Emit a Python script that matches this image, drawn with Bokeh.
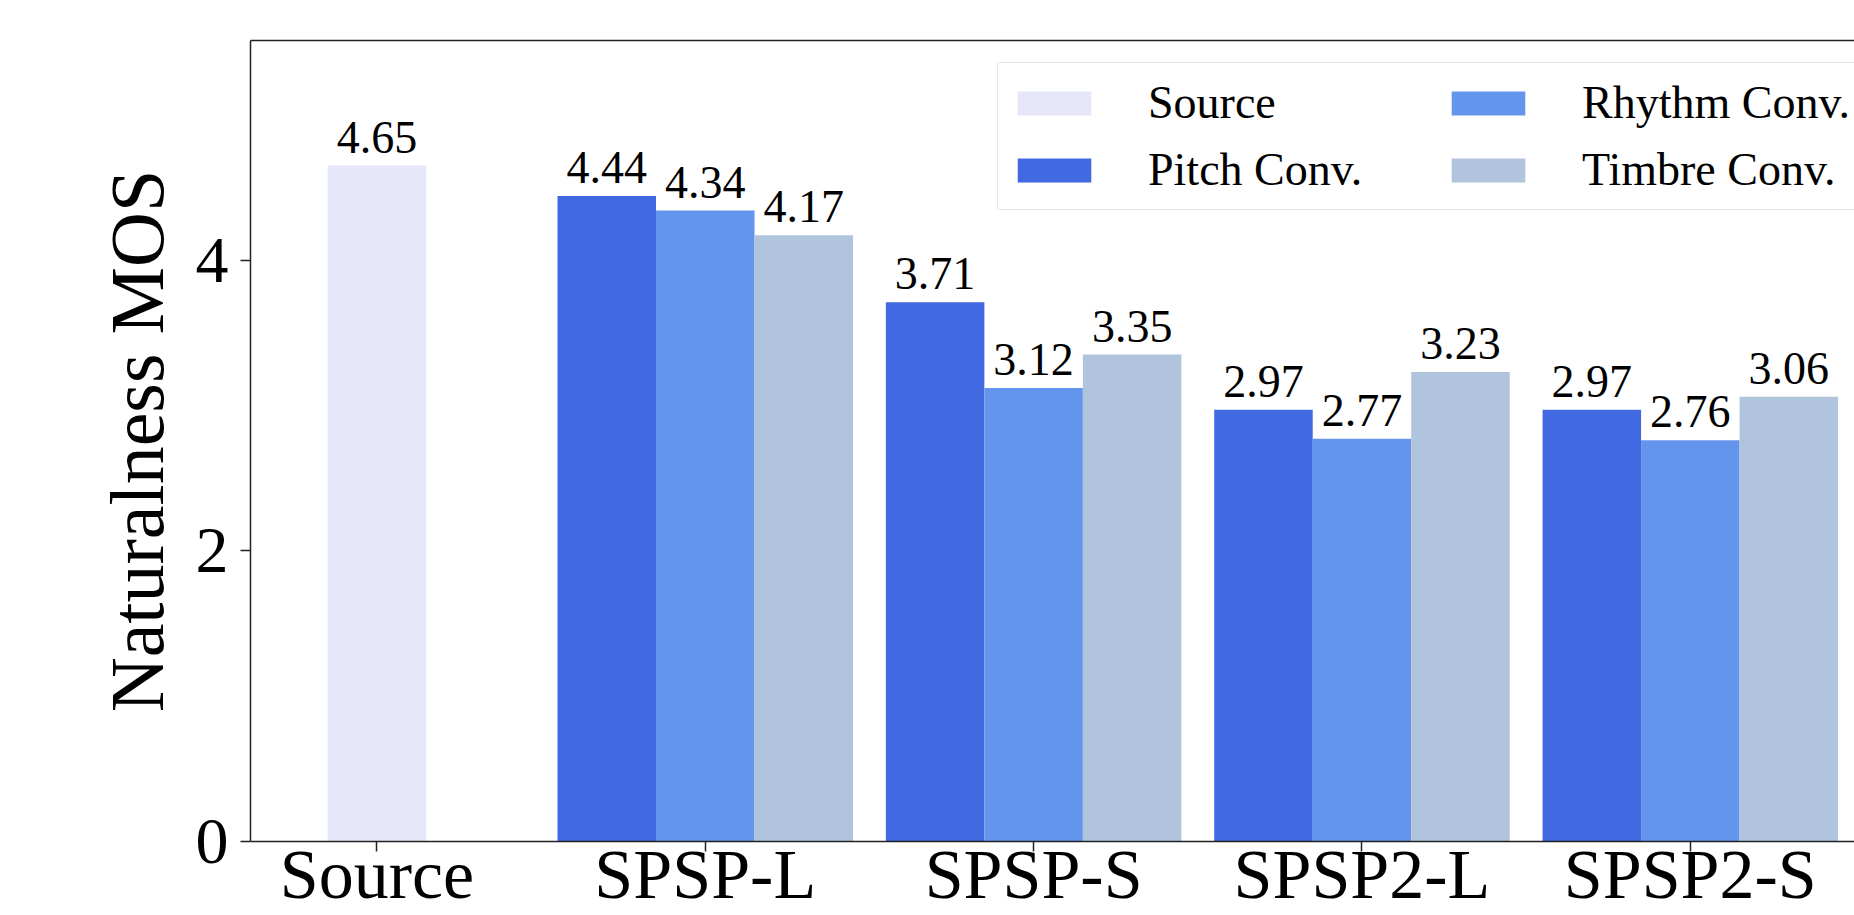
from bokeh.plotting import figure
from bokeh.models import Range1d, FixedTicker, LinearAxis, Legend, LegendItem
from bokeh.core.properties import value
from bokeh.embed import file_html
from bokeh.resources import INLINE

# ---- data ----
categories = ["Source", "SPSP-L", "SPSP-S", "SPSP2-L", "SPSP2-S"]
source_mos = [4.65]
pitch_conv = [4.44, 3.71, 2.97, 2.97]
rhythm_conv = [4.34, 3.12, 2.77, 2.76]
timbre_conv = [4.17, 3.35, 3.23, 3.06]
y_ticks = [0, 2, 4]
series_names = ["Source", "Pitch Conv.", "Rhythm Conv.", "Timbre Conv."]
series_colors = ["#E6E6FA", "#4169E1", "#6495ED", "#B0C4DE"]

FONT = "Liberation Serif"
BAR_W = 0.3

p = figure(width=1854, height=915, output_backend="svg", toolbar_location=None,
           x_range=Range1d(-0.385, 4.5), y_range=Range1d(0, 5.51),
           min_border_left=250, min_border_right=0, min_border_top=40,
           min_border_bottom=0)
p.outline_line_color = None
p.xgrid.visible = False
p.ygrid.visible = False
p.background_fill_color = "white"
p.border_fill_color = "white"

src_x = [0]
grp_x = list(range(1, len(categories)))
offsets = [-BAR_W, 0, BAR_W]

LBL = dict(text_align="center", text_baseline="bottom", y_offset=-13,
           text_font=value(FONT), text_font_size="46px", text_color="black")

renderers = []
r = p.vbar(x=src_x, top=source_mos, width=BAR_W, bottom=0,
           fill_color=series_colors[0], line_color=None)
renderers.append(r)
p.text(x=src_x, y=source_mos, text=[f"{v:.2f}" for v in source_mos], **LBL)

for vals, off, col in zip([pitch_conv, rhythm_conv, timbre_conv], offsets, series_colors[1:]):
    xs = [g + off for g in grp_x]
    r = p.vbar(x=xs, top=vals, width=BAR_W, bottom=0,
               fill_color=col, line_color=None)
    renderers.append(r)
    p.text(x=xs, y=vals, text=[f"{v:.2f}" for v in vals], **LBL)

# axes
p.xaxis.ticker = FixedTicker(ticks=list(range(len(categories))))
p.xaxis.major_label_overrides = {i: c for i, c in enumerate(categories)}
p.yaxis.ticker = FixedTicker(ticks=y_ticks)
for ax in (p.xaxis[0], p.yaxis[0]):
    ax.major_tick_in = 0
    ax.major_tick_out = 10
    ax.minor_tick_out = 0
    ax.minor_tick_in = 0
    ax.axis_line_width = 1.5
    ax.axis_line_color = "#222222"
    ax.major_tick_line_color = "#222222"
    ax.major_tick_line_width = 1.5
    ax.major_label_text_font = FONT
    ax.major_label_text_color = "black"
p.xaxis.major_label_text_font_size = "70px"
p.xaxis.major_label_standoff = -16
p.yaxis.major_label_text_font_size = "66px"
p.yaxis.major_label_standoff = 12
p.yaxis.axis_label = "Naturalness MOS"
p.yaxis.axis_label_text_font = FONT
p.yaxis.axis_label_text_font_size = "76px"
p.yaxis.axis_label_text_font_style = "normal"
p.yaxis.axis_label_text_color = "black"
p.yaxis.axis_label_standoff = 14

top_axis = LinearAxis(ticker=FixedTicker(ticks=[]), major_label_text_font_size="0px",
                      major_tick_out=0, major_tick_in=0, minor_tick_out=0, minor_tick_in=0,
                      axis_line_width=1.5, axis_line_color="#222222")
p.add_layout(top_axis, "above")

items = [LegendItem(label=n, renderers=[r]) for n, r in zip(series_names, renderers)]
legend = Legend(items=items, ncols=2, orientation="vertical", location=(747, 631),
                glyph_width=92, glyph_height=30, label_standoff=48, label_height=59,
                label_width=286, spacing=8, padding=10, margin=0,
                label_text_font=FONT, label_text_font_size="46px", label_text_color="black",
                border_line_color="#d0d0d0", border_line_width=1.5,
                background_fill_color="white", background_fill_alpha=0.85)
p.add_layout(legend, "center")

open("out.html", "w").write(file_html(p, INLINE))
